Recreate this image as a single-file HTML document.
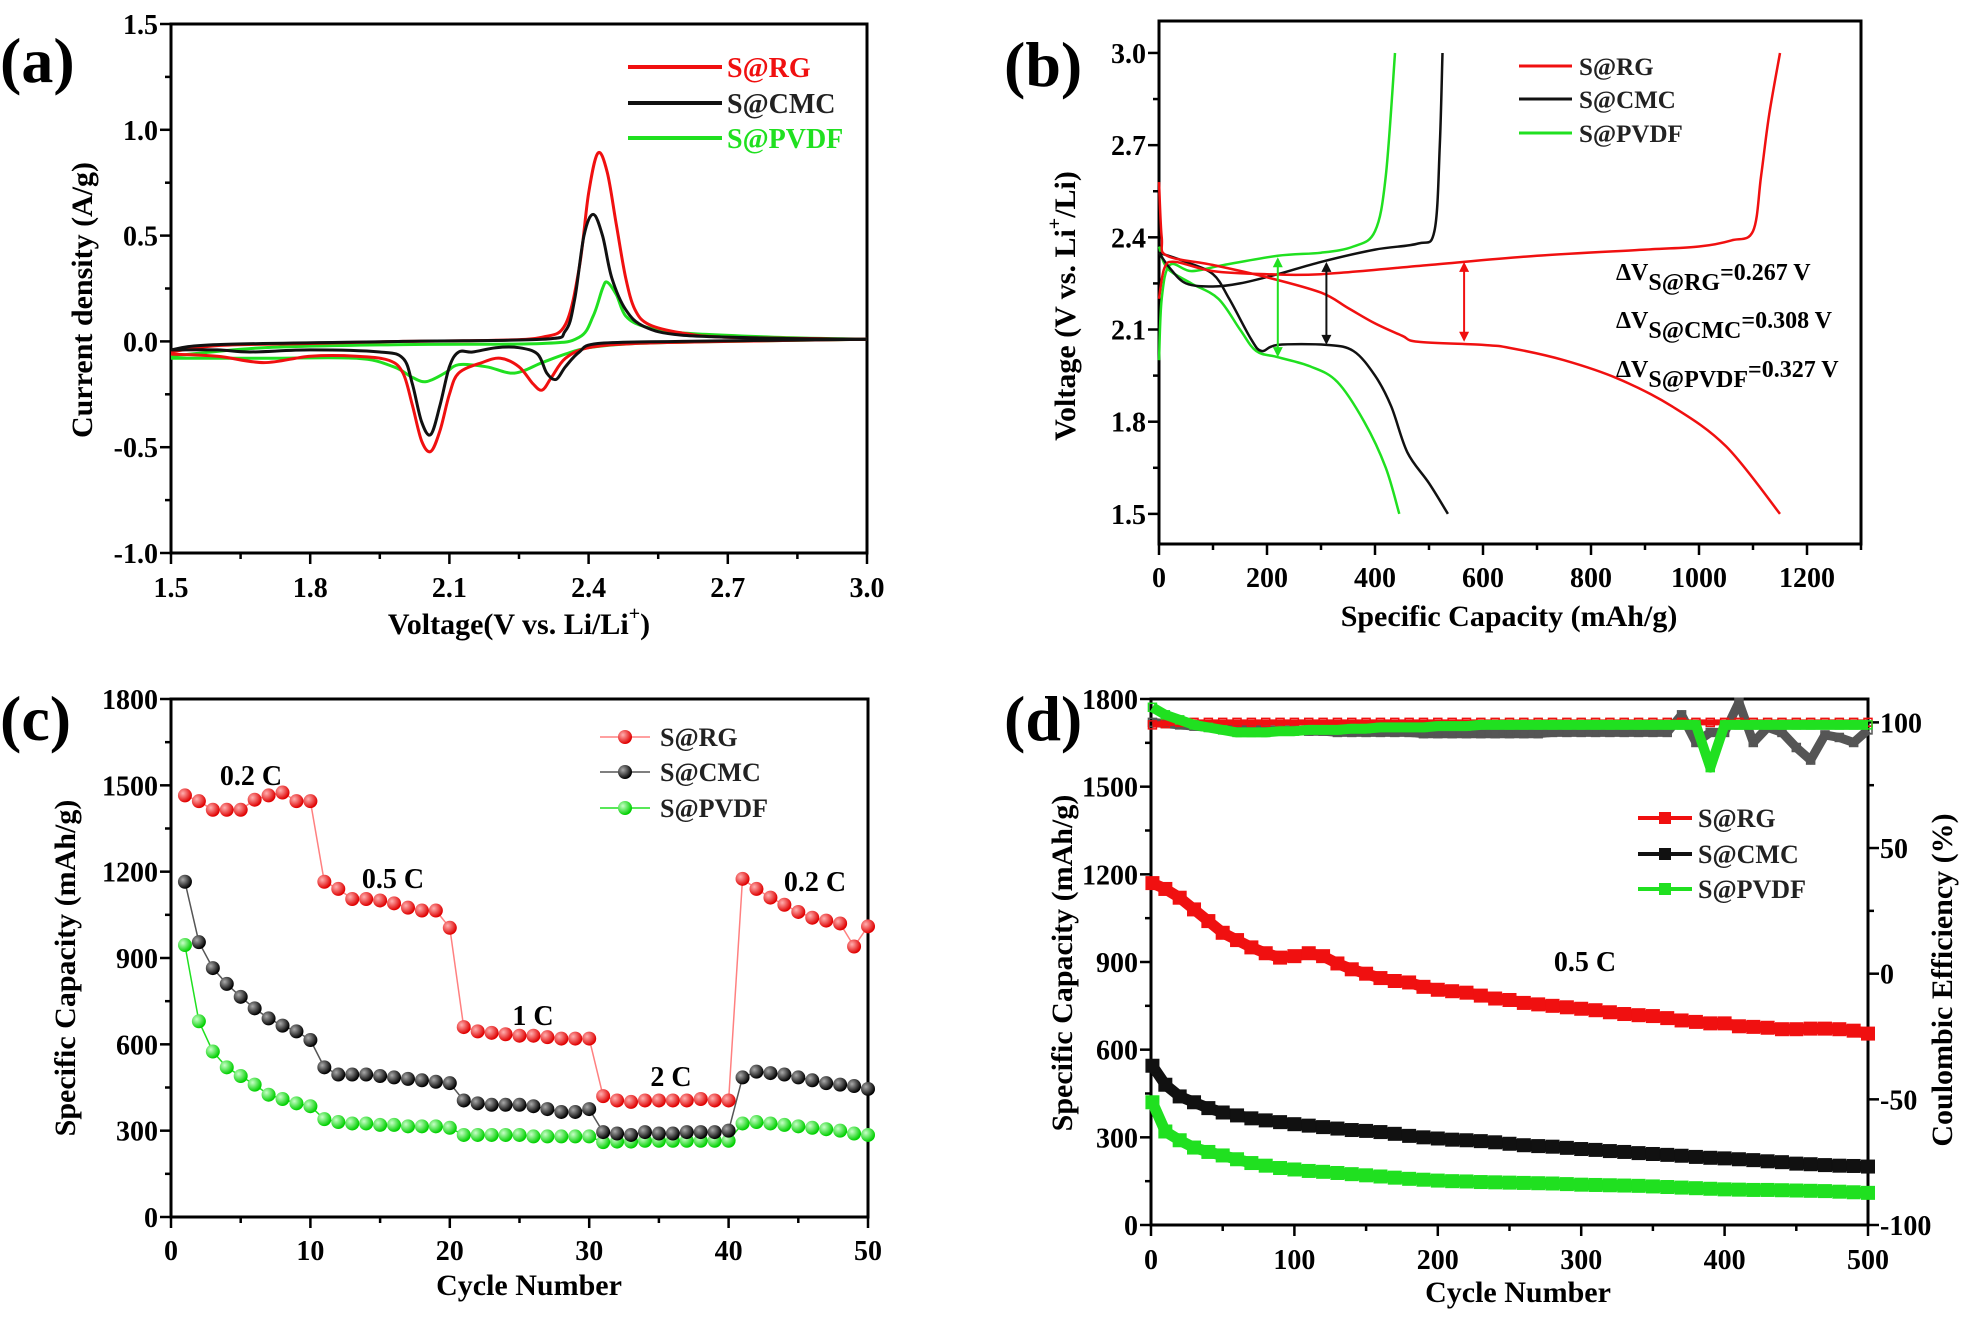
<!DOCTYPE html>
<html><head><meta charset="utf-8"><style>
html,body{margin:0;padding:0;background:#fff;}
svg text{font-family:"Liberation Serif",serif;font-weight:bold;}
</style></head><body>
<svg id="fig" width="1969" height="1314" viewBox="0 0 1969 1314" xmlns="http://www.w3.org/2000/svg">
<defs>
<radialGradient id="gR" cx="35%" cy="35%" r="65%"><stop offset="0" stop-color="#ffb0b0"/><stop offset="1" stop-color="#e00000"/></radialGradient>
<radialGradient id="gK" cx="35%" cy="35%" r="65%"><stop offset="0" stop-color="#aaa"/><stop offset="1" stop-color="#000"/></radialGradient>
<radialGradient id="gG" cx="35%" cy="35%" r="65%"><stop offset="0" stop-color="#c8ffc8"/><stop offset="1" stop-color="#00d000"/></radialGradient>
</defs>
</svg>
<script>
// ---------- Panel (a) CV data ----------
const aRGanV=[1.5,1.6,1.8,2.0,2.2,2.3,2.35,2.38,2.40,2.42,2.44,2.46,2.48,2.50,2.53,2.6,2.7,3.0];
const aRGanI=[-0.05,-0.02,-0.01,0,0.005,0.02,0.08,0.35,0.7,0.89,0.8,0.55,0.3,0.15,0.08,0.04,0.02,0.01];
const aRGcaV=[3.0,2.7,2.5,2.4,2.35,2.32,2.3,2.28,2.25,2.21,2.17,2.12,2.10,2.08,2.06,2.04,2.02,2.0,1.97,1.9,1.8,1.7,1.6,1.5];
const aRGcaI=[0.01,0,-0.01,-0.03,-0.08,-0.17,-0.23,-0.2,-0.12,-0.08,-0.1,-0.15,-0.25,-0.42,-0.52,-0.47,-0.3,-0.15,-0.09,-0.07,-0.07,-0.1,-0.07,-0.06];
const aCManV=[1.5,1.6,2.0,2.3,2.35,2.37,2.39,2.41,2.43,2.45,2.48,2.52,2.6,2.8,3.0];
const aCManI=[-0.04,-0.015,0,0.01,0.05,0.2,0.5,0.6,0.5,0.3,0.15,0.07,0.03,0.015,0.01];
const aCMcaV=[3.0,2.6,2.42,2.38,2.35,2.33,2.31,2.29,2.25,2.2,2.15,2.12,2.1,2.08,2.06,2.04,2.02,2.0,1.95,1.8,1.67,1.6,1.5];
const aCMcaI=[0.01,0,-0.01,-0.05,-0.12,-0.18,-0.15,-0.06,-0.03,-0.03,-0.05,-0.05,-0.12,-0.3,-0.44,-0.38,-0.2,-0.08,-0.05,-0.04,-0.05,-0.04,-0.04];
const aPVanV=[1.5,1.7,2.0,2.3,2.38,2.41,2.43,2.44,2.46,2.48,2.52,2.6,2.8,3.0];
const aPVanI=[-0.07,-0.03,-0.015,-0.01,0.02,0.12,0.25,0.28,0.22,0.12,0.07,0.04,0.02,0.01];
const aPVcaV=[3.0,2.7,2.5,2.4,2.35,2.3,2.24,2.18,2.12,2.09,2.05,2.02,1.98,1.9,1.7,1.5];
const aPVcaI=[0.01,0,-0.01,-0.03,-0.06,-0.1,-0.15,-0.12,-0.11,-0.15,-0.19,-0.17,-0.12,-0.08,-0.08,-0.08];
const aXTicks=["1.5","1.8","2.1","2.4","2.7","3.0"];
const aYTicks=["-1.0","-0.5","0.0","0.5","1.0","1.5"];
// ---------- Panel (b) charge/discharge ----------
const bRGdC=[0,5,15,100,200,300,350,400,450,480,600,650,750,850,950,1050,1150];
const bRGdV=[2.58,2.40,2.34,2.31,2.27,2.22,2.17,2.12,2.08,2.06,2.05,2.04,2.0,1.94,1.85,1.72,1.5];
const bRGcC=[0,10,30,100,200,300,500,700,900,1000,1060,1100,1115,1130,1150];
const bRGcV=[2.2,2.3,2.32,2.29,2.28,2.28,2.31,2.34,2.36,2.37,2.39,2.42,2.6,2.8,3.0];
const bCMdC=[0,50,100,130,170,190,220,310,360,400,430,460,500,535];
const bCMdV=[2.35,2.32,2.28,2.2,2.07,2.03,2.05,2.05,2.03,1.95,1.85,1.7,1.6,1.5];
const bCMcC=[0,20,50,100,150,220,300,400,480,510,520,525];
const bCMcV=[2.35,2.30,2.25,2.24,2.25,2.28,2.32,2.36,2.38,2.42,2.7,3.0];
const bPVdC=[0,15,60,110,150,180,220,280,330,380,420,445];
const bPVdV=[2.37,2.3,2.25,2.2,2.1,2.03,2.01,1.98,1.93,1.8,1.65,1.5];
const bPVcC=[0,5,20,60,120,220,300,360,400,420,437];
const bPVcV=[2.0,2.2,2.31,2.29,2.31,2.34,2.35,2.37,2.42,2.6,3.0];
const bXTicks=["0","200","400","600","800","1000","1200"];
const bYTicks=["1.5","1.8","2.1","2.4","2.7","3.0"];
// ---------- Panel (c) rate ----------
const cRG=[1465,1445,1415,1415,1415,1450,1465,1475,1445,1445,1165,1140,1105,1105,1100,1090,1075,1065,1065,1005,660,645,640,635,630,630,625,620,620,620,420,405,400,405,405,405,405,410,405,405,1175,1140,1110,1085,1060,1040,1030,1020,940,1010];
const cCMC=[1165,955,865,810,765,725,690,665,645,615,520,495,495,495,490,485,480,475,470,465,405,395,390,390,390,385,375,365,365,375,295,290,285,295,290,290,295,295,295,300,485,505,500,495,485,475,465,460,455,445];
const cPVDF=[945,680,575,520,490,460,425,410,395,385,340,330,325,325,320,320,315,315,315,310,285,285,285,285,285,280,280,280,280,280,260,262,262,265,265,265,265,265,265,265,325,330,325,320,315,310,305,300,290,285];
const cXTicks=["0","10","20","30","40","50"];
const cYTicks=["0","300","600","900","1200","1500","1800"];
// ---------- Panel (d) cycling (every 10 cycles) ----------
const dCycles=[1,10,20,30,40,50,60,70,80,90,100,110,120,130,140,150,160,170,180,190,200,210,220,230,240,250,260,270,280,290,300,310,320,330,340,350,360,370,380,390,400,410,420,430,440,450,460,470,480,490,500];
const dRG=[1170,1150,1120,1080,1040,1000,975,950,930,915,920,930,920,895,875,860,845,835,830,815,805,800,795,785,775,770,760,755,750,745,740,735,728,722,718,715,708,700,695,690,690,680,678,675,670,670,672,672,670,665,655];
const dCMC=[545,480,440,420,400,385,375,365,358,352,345,340,335,330,325,322,318,312,305,300,296,292,290,287,283,278,273,270,268,264,260,257,253,250,246,243,240,237,233,230,228,225,222,218,215,210,208,205,203,202,200];
const dPVDF=[420,320,290,265,250,238,225,212,203,195,190,185,182,178,174,170,166,162,158,155,152,150,149,147,146,145,144,143,142,140,138,137,136,135,134,132,130,128,126,124,122,121,120,120,119,118,117,116,114,112,110];
const dCErg=[99,99.5,100,100,100,100,100,100,100,100,100,100,100,100,100,100,100,100,100,100,100,100,100,100,100,100,100,100,100,100,100,100,100,100,100,100,100,100,100,100,100,100,100,100,100,100,100,100,100,100,100];
const dCEcmc=[100,99.5,99,98.5,98,98,97.5,97.5,97,97,97,96.5,96.5,96,96,96,96,96,96,95.5,95.5,95.5,95.5,95.5,95.5,95.5,95.5,95.5,96,96,96,96,96,96,96,96,96,103,92,96,96,108,92,98,96,90,85,95,94,92,97];
const dCEpv=[106,103,101,99,98,97,96,96,96,96.5,96.5,97,97,97,97.5,97.5,98,98,98,98,98.5,98.5,98.5,99,99,99,99,99,99,99,99,99,99,99,99,99,99,99,99,82,99,99,99,99,99,99,99,99,99,99,99];
const dXTicks=["0","100","200","300","400","500"];
const dYTicks=["0","300","600","900","1200","1500","1800"];
const dY2Ticks=["-100","-50","0","50","100"];

const NS="http://www.w3.org/2000/svg";
const svg=document.getElementById('fig');
function mk(tag,attrs,parent){const e=document.createElementNS(NS,tag);for(const k in attrs)e.setAttribute(k,attrs[k]);(parent||svg).appendChild(e);return e;}
function txt(s,attrs,parent){const e=mk('text',attrs,parent);e.textContent=s;return e;}
function lin(d0,d1,r0,r1){return v=>r0+(v-d0)/(d1-d0)*(r1-r0);}

function axes(g,p){
  const fr=mk('rect',{x:p.L,y:p.T,width:p.R-p.L,height:p.B-p.T,fill:'none',stroke:'#000','stroke-width':3},g);
  
  
  for(let v=p.xmin;v<=p.xmax+1e-9;v+=p.xminor){
    const major=Math.abs(((v-p.xt0)/p.xstep)-Math.round((v-p.xt0)/p.xstep))<1e-6 && v>=p.xt0-1e-9;
    const x=p.sx(v);
    const t=mk('line',{x1:x,x2:x,y1:p.B,y2:p.B+(major?11:6),stroke:'#000','stroke-width':2.5},g);
    
    
  }
  p.xl.forEach((s,i)=>{const v=p.xt0+i*p.xstep;
    const t=txt(s,{x:p.sx(v),y:p.xly,'text-anchor':'middle','font-size':28},g);
    
    });
  for(let v=p.ymin;v<=p.ymax+1e-9;v+=p.yminor){
    const major=Math.abs(((v-p.yt0)/p.ystep)-Math.round((v-p.yt0)/p.ystep))<1e-6 && v>=p.yt0-1e-9;
    const y=p.sy(v);
    const t=mk('line',{x1:p.L,x2:p.L-(major?11:6),y1:y,y2:y,stroke:'#000','stroke-width':2.5},g);
    
    
  }
  p.yl.forEach((s,i)=>{const v=p.yt0+i*p.ystep;
    const t=txt(s,{x:p.L-13,y:p.sy(v)+10,'text-anchor':'end','font-size':28},g);
    
    });
}
function path(g,xs,ys,sx,sy,color,w,name){
  const d=xs.map((x,i)=>(i?'L':'M')+sx(x).toFixed(1)+','+sy(ys[i]).toFixed(1)).join('');
  const e=mk('path',{d:d,fill:'none',stroke:color,'stroke-width':w,'stroke-linejoin':'round'},g);
  
  
  return e;
}
function smoothPath(g,xs,ys,sx,sy,color,w,name){
  const P=xs.map((x,i)=>[sx(x),sy(ys[i])]);
  let d='M'+P[0][0]+','+P[0][1];
  for(let i=0;i<P.length-1;i++){const p0=P[Math.max(0,i-1)],p1=P[i],p2=P[i+1],p3=P[Math.min(P.length-1,i+2)];
    const c1=[p1[0]+(p2[0]-p0[0])/6,p1[1]+(p2[1]-p0[1])/6],c2=[p2[0]-(p3[0]-p1[0])/6,p2[1]-(p3[1]-p1[1])/6];
    d+='C'+c1[0].toFixed(1)+','+c1[1].toFixed(1)+' '+c2[0].toFixed(1)+','+c2[1].toFixed(1)+' '+p2[0].toFixed(1)+','+p2[1].toFixed(1);}
  const e=mk('path',{d:d,fill:'none',stroke:color,'stroke-width':w,'stroke-linejoin':'round'},g);
  
  
}
function panelLabel(s,x,y){const t=txt(s,{x:x,y:y,'font-size':64});
  
  }
function title(g,s,x,y,rot){
  const t=txt(s,{x:x,y:y,'text-anchor':'middle','font-size':30,transform:rot?`rotate(-90 ${x} ${y})`:''},g);
  
  
  return t;
}
const RED='#f01010',BLK='#111',GRN='#20e020';

// ===== Panel (a) =====
{const g=mk('g',{});
 const p={L:171,R:867,T:24,B:553,xmin:1.5,xmax:3.0,ymin:-1.0,ymax:1.5,xminor:0.15,xstep:0.3,xt0:1.5,yminor:0.25,ystep:0.5,yt0:-1.0,xl:aXTicks,yl:aYTicks,xly:597};
 p.sx=lin(1.5,3.0,p.L,p.R);p.sy=lin(-1,1.5,p.B,p.T);
 axes(g,p);
 smoothPath(g,aPVanV,aPVanI,p.sx,p.sy,GRN,3,'series-s-pvdf-anodic');
 smoothPath(g,aPVcaV,aPVcaI,p.sx,p.sy,GRN,3,'series-s-pvdf-cathodic');
 smoothPath(g,aRGanV,aRGanI,p.sx,p.sy,RED,3,'series-s-rg-anodic');
 smoothPath(g,aRGcaV,aRGcaI,p.sx,p.sy,RED,3,'series-s-rg-cathodic');
 smoothPath(g,aCManV,aCManI,p.sx,p.sy,BLK,3,'series-s-cmc-anodic');
 smoothPath(g,aCMcaV,aCMcaI,p.sx,p.sy,BLK,3,'series-s-cmc-cathodic');
 const t=title(g,'',519,634,false);t.innerHTML='Voltage(V vs. Li/Li<tspan dy="-14" font-size="20">+</tspan><tspan dy="14">)</tspan>';
 title(g,'Current density (A/g)',92,300,true);
 [['S@RG',RED,77],['S@CMC',BLK,113],['S@PVDF',GRN,148]].forEach(([n,c,y])=>{
  const lg=mk('g',{},g);
  mk('line',{x1:628,x2:722,y1:y-10,y2:y-10,stroke:c,'stroke-width':4},lg);
  txt(n,{x:727,y:y,'font-size':28,fill:c===BLK?'#222':c},lg);});
}
panelLabel('(a)',0,82);

// ===== Panel (b) =====
{const g=mk('g',{});
 const p={L:1159,R:1861,T:21,B:544,xmin:0,xmax:1300,ymin:1.5,ymax:3.0,xminor:100,xstep:200,xt0:0,yminor:0.15,ystep:0.3,yt0:1.5,xl:bXTicks,yl:bYTicks,xly:587};
 p.sx=lin(0,1300,p.L,p.R);p.sy=lin(1.402,3.104,p.B,p.T);
 axes(g,p);
 smoothPath(g,bPVdC,bPVdV,p.sx,p.sy,GRN,2.5,'series-s-pvdf-discharge');
 smoothPath(g,bPVcC,bPVcV,p.sx,p.sy,GRN,2.5,'series-s-pvdf-charge');
 smoothPath(g,bCMdC,bCMdV,p.sx,p.sy,BLK,2.5,'series-s-cmc-discharge');
 smoothPath(g,bCMcC,bCMcV,p.sx,p.sy,BLK,2.5,'series-s-cmc-charge');
 smoothPath(g,bRGdC,bRGdV,p.sx,p.sy,RED,2.5,'series-s-rg-discharge');
 smoothPath(g,bRGcC,bRGcV,p.sx,p.sy,RED,2.5,'series-s-rg-charge');
 [[565,2.32,2.06,RED],[310,2.32,2.05,BLK],[220,2.335,2.01,GRN]].forEach(([c,v1,v2,col])=>{
  const ag=mk('g',{},g);
  const x=p.sx(c),y1=p.sy(v1),y2=p.sy(v2);
  mk('line',{x1:x,x2:x,y1:y1+8,y2:y2-8,stroke:col,'stroke-width':2},ag);
  mk('path',{d:`M${x-5},${y1+10}L${x},${y1}L${x+5},${y1+10}Z M${x-5},${y2-10}L${x},${y2}L${x+5},${y2-10}Z`,fill:col},ag);});
 [['S@RG','0.267 V',280],['S@CMC','0.308 V',328],['S@PVDF','0.327 V',377]].forEach(([s,v,y])=>{
  const t=txt('',{x:1616,y:y,'font-size':24},g);
  
  
  t.innerHTML=`ΔV<tspan dy="10">${s}</tspan><tspan dy="-10">=${v}</tspan>`;});
 title(g,'Specific Capacity (mAh/g)',1509,626,false);
 const yt=title(g,'',1075,306,true);yt.innerHTML='Voltage (V vs. Li<tspan dy="-14" font-size="20">+</tspan><tspan dy="14">/Li)</tspan>';
 [['S@RG',RED,75],['S@CMC',BLK,108],['S@PVDF',GRN,142]].forEach(([n,c,y])=>{
  const lg=mk('g',{},g);
  mk('line',{x1:1519,x2:1572,y1:y-9,y2:y-9,stroke:c,'stroke-width':3},lg);
  txt(n,{x:1579,y:y,'font-size':25,fill:'#222'},lg);});
}
panelLabel('(b)',1004,86);

// ===== Panel (c) =====
{const g=mk('g',{});
 const p={L:171,R:868,T:699,B:1217,xmin:0,xmax:50,ymin:0,ymax:1800,xminor:5,xstep:10,xt0:0,yminor:150,ystep:300,yt0:0,xl:cXTicks,yl:cYTicks,xly:1260};
 p.sx=lin(0,50,p.L,p.R);p.sy=lin(0,1800,p.B,p.T);
 axes(g,p);
 const cyc=cRG.map((_,i)=>i+1);
 [[cPVDF,GRN,'url(#gG)','s-pvdf'],[cCMC,'#555','url(#gK)','s-cmc'],[cRG,'#ff8080','url(#gR)','s-rg']].forEach(([d,lc,f,n])=>{
  path(g,cyc,d,p.sx,p.sy,lc,1.5,'series-'+n+'-line');
  d.forEach((v,i)=>{const c=mk('circle',{cx:p.sx(i+1),cy:p.sy(v),r:7,fill:f},g);
   
   });});
 [['0.2 C',251,785],['0.5 C',393,888],['1 C',533,1025],['2 C',671,1086],['0.2 C',815,891]].forEach(([s,x,y])=>{
  const t=txt(s,{x:x,y:y,'text-anchor':'middle','font-size':28},g);
  
  });
 title(g,'Cycle Number',529,1295,false);
 title(g,'Specific Capacity (mAh/g)',75,968,true);
 [['S@RG','#ff8080','url(#gR)',746],['S@CMC','#555','url(#gK)',781],['S@PVDF',GRN,'url(#gG)',817]].forEach(([n,c,f,y])=>{
  const lg=mk('g',{},g);
  mk('line',{x1:600,x2:650,y1:y-9,y2:y-9,stroke:c,'stroke-width':1.5},lg);
  mk('circle',{cx:625,cy:y-9,r:7,fill:f},lg);
  txt(n,{x:660,y:y,'font-size':26,fill:'#222'},lg);});
}
panelLabel('(c)',0,740);

// ===== Panel (d) =====
{const g=mk('g',{});
 const p={L:1151,R:1868,T:699,B:1225,xmin:0,xmax:500,ymin:0,ymax:1800,xminor:50,xstep:100,xt0:0,yminor:150,ystep:300,yt0:0,xl:dXTicks,yl:dYTicks,xly:1269};
 p.sx=lin(0,500,p.L,p.R);p.sy=lin(0,1800,p.B,p.T);
 axes(g,p);
 const sy2=lin(-100,109.3,p.B,p.T);
 for(let v=-100;v<=100;v+=25){const y=sy2(v),major=v%50===0;
  const t=mk('line',{x1:p.R,x2:p.R+(major?11:6),y1:y,y2:y,stroke:'#000','stroke-width':2.5},g);
  
  }
 dY2Ticks.forEach((s,i)=>{const t=txt(s,{x:p.R+12,y:sy2(-100+50*i)+10,'font-size':28},g);
  
  });
 // coulombic efficiency
 [[dCEcmc,'#555','s-cmc',9],[dCErg,RED,'s-rg',6],[dCEpv,GRN,'s-pvdf',10]].forEach(([d,c,n,w])=>{
  path(g,dCycles,d,p.sx,sy2,c,w,'ce-'+n+'-line');
  d.forEach((v,i)=>{const q=mk('rect',{x:p.sx(dCycles[i])-4,y:sy2(v)-4,width:8,height:8,fill:'none',stroke:c,'stroke-width':1.5},g);
   
   });});
 // capacity
 [[dPVDF,GRN,'s-pvdf'],[dCMC,BLK,'s-cmc'],[dRG,RED,'s-rg']].forEach(([d,c,n])=>{
  path(g,dCycles,d,p.sx,p.sy,c,11,'capacity-'+n+'-line');
  d.forEach((v,i)=>{const q=mk('rect',{x:p.sx(dCycles[i])-7,y:p.sy(v)-7,width:14,height:14,fill:c},g);
   
   });});
 const t=txt('0.5 C',{x:1585,y:971,'text-anchor':'middle','font-size':28},g);
 
 
 title(g,'Cycle Number',1518,1302,false);
 title(g,'Specific Capacity (mAh/g)',1072,963,true);
 title(g,'Coulombic Efficiency (%)',1952,980,true);
 [['S@RG',RED,827],['S@CMC',BLK,863],['S@PVDF',GRN,898]].forEach(([n,c,y])=>{
  const lg=mk('g',{},g);
  mk('line',{x1:1638,x2:1692,y1:y-9,y2:y-9,stroke:c,'stroke-width':4},lg);
  mk('rect',{x:1659,y:y-15,width:12,height:12,fill:c},lg);
  txt(n,{x:1698,y:y,'font-size':26,fill:'#222'},lg);});
}
panelLabel('(d)',1004,740);
</script>
</body></html>
